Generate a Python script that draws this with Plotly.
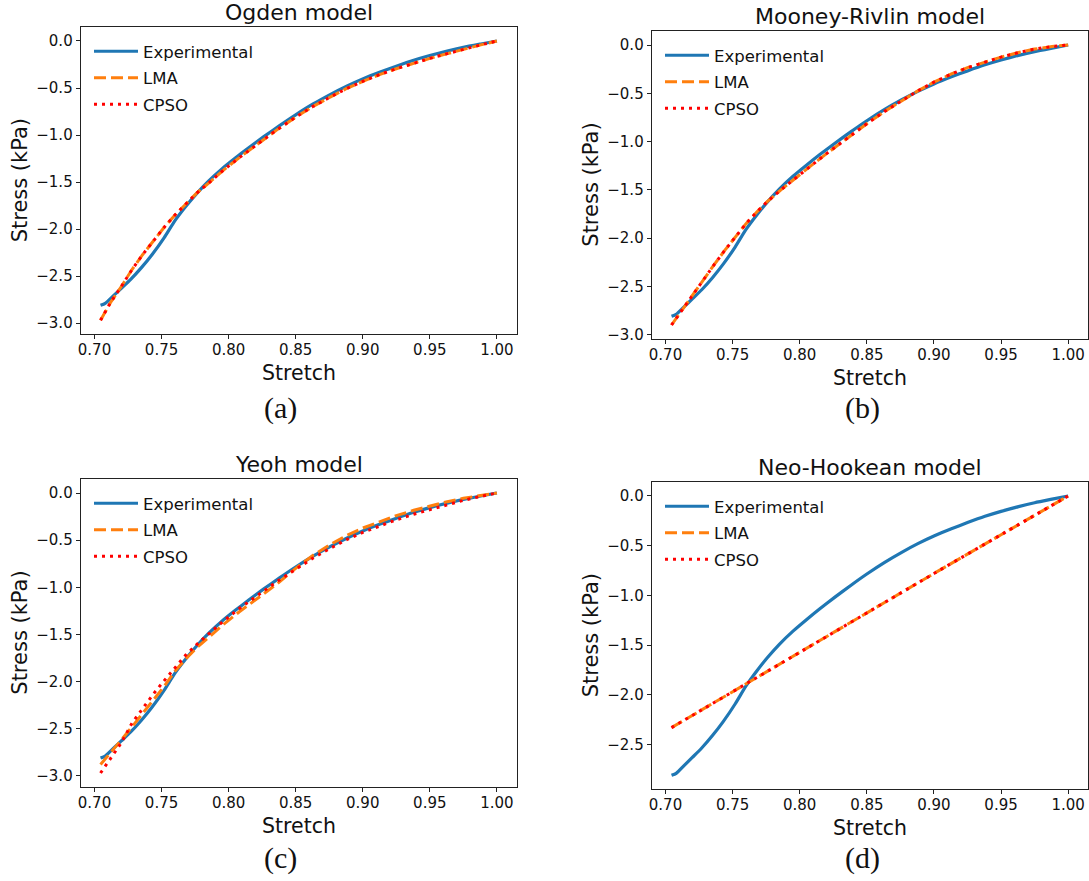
import plotly.graph_objects as go

# ---------------- data ----------------
stretch_exp = [0.7045, 0.708, 0.714, 0.720, 0.727, 0.735, 0.743, 0.752, 0.760, 0.768,
               0.776, 0.785, 0.795, 0.805, 0.815, 0.826, 0.838, 0.850, 0.863, 0.876,
               0.888, 0.900, 0.913, 0.925, 0.938, 0.950, 0.963, 0.975, 0.988, 1.000]
stress_exp = [-2.81, -2.79, -2.71, -2.63, -2.535, -2.41, -2.27, -2.09, -1.91, -1.76,
              -1.625, -1.49, -1.36, -1.245, -1.135, -1.02, -0.90, -0.785, -0.67, -0.567,
              -0.48, -0.403, -0.33, -0.268, -0.205, -0.155, -0.107, -0.068, -0.032, 0.0]

stretch_fit = [0.7045, 0.712, 0.720, 0.728, 0.736, 0.744, 0.752, 0.760, 0.768, 0.776,
               0.786, 0.796, 0.808, 0.820, 0.836, 0.850, 0.863, 0.876, 0.888, 0.900,
               0.913, 0.925, 0.938, 0.950, 0.963, 0.975, 0.988, 1.000]

ogden_lma = [-2.97, -2.78, -2.61, -2.43, -2.27, -2.12, -1.98, -1.85, -1.73, -1.62,
             -1.50, -1.375, -1.24, -1.11, -0.945, -0.81, -0.695, -0.595, -0.505, -0.43,
             -0.355, -0.295, -0.235, -0.185, -0.135, -0.088, -0.042, 0.0]
ogden_cpso = [-2.97, -2.78, -2.61, -2.43, -2.27, -2.12, -1.98, -1.85, -1.73, -1.62,
              -1.50, -1.375, -1.24, -1.11, -0.945, -0.81, -0.695, -0.595, -0.505, -0.43,
              -0.355, -0.295, -0.235, -0.185, -0.135, -0.088, -0.042, 0.0]

mooney_lma = [-2.90, -2.75, -2.60, -2.44, -2.28, -2.13, -1.985, -1.85, -1.73, -1.62,
              -1.50, -1.385, -1.255, -1.125, -0.955, -0.815, -0.69, -0.575, -0.475, -0.385,
              -0.30, -0.235, -0.175, -0.125, -0.078, -0.042, -0.016, 0.0]
mooney_cpso = [-2.90, -2.75, -2.60, -2.44, -2.28, -2.13, -1.985, -1.85, -1.73, -1.62,
               -1.50, -1.385, -1.255, -1.125, -0.955, -0.815, -0.69, -0.575, -0.475, -0.385,
               -0.30, -0.235, -0.175, -0.125, -0.078, -0.042, -0.016, 0.0]

yeoh_lma = [-2.88, -2.76, -2.62, -2.48, -2.34, -2.20, -2.05, -1.89, -1.76, -1.645,
            -1.515, -1.395, -1.26, -1.135, -0.965, -0.80, -0.66, -0.545, -0.45, -0.372,
            -0.30, -0.24, -0.183, -0.137, -0.092, -0.056, -0.025, 0.0]
yeoh_cpso = [-2.97, -2.82, -2.65, -2.44, -2.28, -2.13, -1.99, -1.86, -1.72, -1.61,
             -1.48, -1.36, -1.225, -1.10, -0.94, -0.81, -0.69, -0.585, -0.495, -0.418,
             -0.345, -0.285, -0.225, -0.175, -0.123, -0.078, -0.036, 0.0]

stretch_nh = [0.7045, 0.75, 0.80, 0.85, 0.90, 0.95, 1.00]
neo_lma = [-2.33, -1.97, -1.57, -1.17, -0.78, -0.39, 0.0]
neo_cpso = [-2.33, -1.97, -1.57, -1.17, -0.78, -0.39, 0.0]

titles = ["Ogden model", "Mooney-Rivlin model", "Yeoh model", "Neo-Hookean model"]
captions = ["(a)", "(b)", "(c)", "(d)"]
series_names = ["Experimental", "LMA", "CPSO"]
x_tickvals = [0.70, 0.75, 0.80, 0.85, 0.90, 0.95, 1.00]

panels = [
    (stretch_fit, ogden_lma, ogden_cpso),
    (stretch_fit, mooney_lma, mooney_cpso),
    (stretch_fit, yeoh_lma, yeoh_cpso),
    (stretch_nh, neo_lma, neo_cpso),
]

# ---------------- layout geometry (pixels) ----------------
W, H = 1089, 881
# (left, right, top, bottom) of each axes frame
frames = [
    (80.7, 516.7, 27.0, 334.3),
    (651.7, 1088.0, 31.0, 339.0),
    (80.7, 516.7, 479.0, 787.0),
    (651.7, 1088.0, 482.0, 789.3),
]
caption_pos = [(280, 408), (862, 408), (280, 858), (862, 858)]

FONT = "DejaVu Sans"
fig = go.Figure()
layout = dict(
    width=W, height=H,
    margin=dict(l=0, r=0, t=0, b=0),
    paper_bgcolor="white", plot_bgcolor="white",
    showlegend=True,
    annotations=[],
)

for i, (xs, lma, cpso) in enumerate(panels):
    n = i + 1
    xa = "x" if n == 1 else f"x{n}"
    ya = "y" if n == 1 else f"y{n}"
    leg = "legend" if n == 1 else f"legend{n}"
    common = dict(xaxis=xa, yaxis=ya, legend=leg, mode="lines", hoverinfo="skip")
    fig.add_trace(go.Scatter(x=stretch_exp, y=stress_exp, name=series_names[0],
                             line=dict(color="#1f77b4", width=3.2, shape="spline", smoothing=0.6),
                             legendgroup=f"e{n}", **common))
    fig.add_trace(go.Scatter(x=xs, y=lma, name=series_names[1],
                             line=dict(color="#ff7f0e", width=3, dash="12px,5px"),
                             legendgroup=f"l{n}", **common))
    fig.add_trace(go.Scatter(x=xs, y=cpso, name=series_names[2],
                             line=dict(color="#ff0000", width=3, dash="3px,5px"),
                             legendgroup=f"c{n}", **common))

    # ranges like matplotlib autoscale (5% margins)
    allx = list(stretch_exp) + list(xs)
    ally = list(stress_exp) + list(lma) + list(cpso)
    xmin, xmax = min(allx), max(allx)
    ymin, ymax = min(ally), max(ally)
    dx, dy = (xmax - xmin) * 0.05, (ymax - ymin) * 0.05

    l, r, t, b = frames[i]
    axis_common = dict(showline=True, mirror=True, linecolor="#222", linewidth=1,
                       ticks="outside", ticklen=4, tickwidth=1, tickcolor="#222",
                       showgrid=False, zeroline=False, automargin=False,
                       tickfont=dict(family=FONT, size=15, color="#111"))
    layout["xaxis" if n == 1 else f"xaxis{n}"] = dict(
        domain=[l / W, r / W], anchor=ya, range=[xmin - dx, xmax + dx],
        tickvals=x_tickvals, tickformat=".2f", ticklabelstandoff=-2, **axis_common)
    layout["yaxis" if n == 1 else f"yaxis{n}"] = dict(
        domain=[1 - b / H, 1 - t / H], anchor=xa, range=[ymin - dy, ymax + dy],
        dtick=0.5, tick0=0, tickformat=".1f", **axis_common)

    layout[leg] = dict(
        x=(l + 8.3) / W, y=1 - (t + 7) / H, xanchor="left", yanchor="top",
        bgcolor="rgba(255,255,255,0)", borderwidth=0,
        font=dict(family=FONT, size=16.5, color="#111"),
        tracegroupgap=2, itemwidth=44,
    )

    dref_x = f"{xa} domain"
    dref_y = f"{ya} domain"
    layout["annotations"] += [
        dict(text=titles[i], xref=dref_x, yref=dref_y, x=0.5, y=1, xanchor="center",
             yanchor="bottom", yshift=0, showarrow=False,
             font=dict(family=FONT, size=22, color="#111")),
        dict(text="Stretch", xref=dref_x, yref=dref_y, x=0.5, y=0, xanchor="center",
             yanchor="middle", yshift=-39, showarrow=False,
             font=dict(family=FONT, size=20.5, color="#111")),
        dict(text="Stress (kPa)", xref=dref_x, yref=dref_y, x=0, y=0.5, xanchor="center",
             yanchor="middle", xshift=-61, textangle=-90, showarrow=False,
             font=dict(family=FONT, size=21, color="#111")),
        dict(text=captions[i], xref="paper", yref="paper",
             x=caption_pos[i][0] / W, y=1 - caption_pos[i][1] / H,
             xanchor="center", yanchor="middle", showarrow=False,
             font=dict(family="Liberation Serif", size=30, color="#111")),
    ]

fig.update_layout(**layout)
fig.write_html("out.html")
